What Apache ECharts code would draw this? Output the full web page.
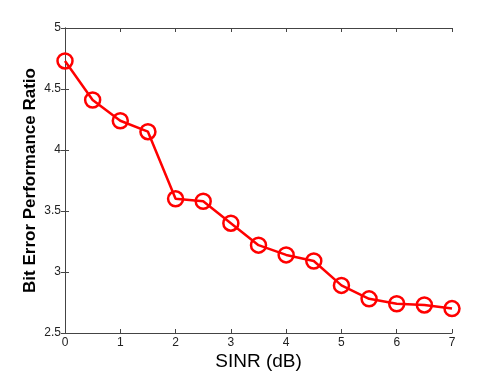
<!DOCTYPE html>
<html>
<head>
<meta charset="utf-8">
<script src="https://cdn.jsdelivr.net/npm/echarts@6/dist/echarts.min.js"></script>
<style>
  html, body { margin: 0; padding: 0; background: #fff; }
  #main { width: 498px; height: 375px; }
</style>
</head>
<body>
<div id="main"></div>
<script>
// SINR (dB) and the measured ratio
const sinr = [0, 0.5, 1, 1.5, 2, 2.5, 3, 3.5, 4, 4.5, 5, 5.5, 6, 6.5, 7];
const ratio = [4.73, 4.41, 4.24, 4.15, 3.60, 3.58, 3.40, 3.22, 3.14, 3.09, 2.89, 2.78, 2.74, 2.73, 2.70];

const axisColor = '#444';
const fontFam = '"Liberation Sans", Arial, sans-serif';

let chart = echarts.init(document.getElementById('main'));

let hiddenAxis = {
  axisLine: { show: true, lineStyle: { color: axisColor, width: 1 } },
  axisTick: { show: true, inside: true, length: 4, lineStyle: { color: axisColor } },
  axisLabel: { show: false },
  splitLine: { show: false }
};

let option = {
  animation: false,
  grid: { left: 65, right: 46, top: 28, bottom: 42, outerBoundsMode: 'none', containLabel: false },
  xAxis: [
    {
      type: 'value',
      min: 0, max: 7, interval: 1,
      name: 'SINR (dB)',
      nameLocation: 'middle',
      nameGap: 19,
      nameMoveOverlap: false,
      nameTextStyle: { fontSize: 19, color: '#000', fontFamily: fontFam },
      axisLine: { show: true, onZero: false, lineStyle: { color: axisColor, width: 1 } },
      axisTick: { show: true, inside: true, length: 4, lineStyle: { color: axisColor } },
      axisLabel: { fontSize: 12, color: '#222', margin: 4, fontFamily: fontFam },
      splitLine: { show: false }
    },
    Object.assign({ type: 'value', position: 'top', min: 0, max: 7, interval: 1 }, hiddenAxis)
  ],
  yAxis: [
    {
      type: 'value',
      min: 2.5, max: 5, interval: 0.5,
      name: 'Bit Error Performance Ratio',
      nameLocation: 'middle',
      nameGap: 26,
      nameMoveOverlap: false,
      nameTextStyle: { fontSize: 17, fontWeight: 'bold', color: '#000', fontFamily: fontFam },
      axisLine: { show: true, onZero: false, lineStyle: { color: axisColor, width: 1 } },
      axisTick: { show: true, inside: true, length: 4, lineStyle: { color: axisColor } },
      axisLabel: { fontSize: 12, color: '#222', margin: 4, fontFamily: fontFam },
      splitLine: { show: false }
    },
    Object.assign({ type: 'value', position: 'right', min: 2.5, max: 5, interval: 0.5 }, hiddenAxis)
  ],
  series: [
    {
      type: 'line',
      data: sinr.map((x, i) => [x, ratio[i]]),
      symbol: 'circle',
      symbolSize: 15,
      lineStyle: { color: '#ff0000', width: 2.5 },
      itemStyle: { color: 'rgba(255,255,255,0)', borderColor: '#ff0000', borderWidth: 2.5 },
      clip: false
    }
  ]
};

chart.setOption(option);
</script>
</body>
</html>
